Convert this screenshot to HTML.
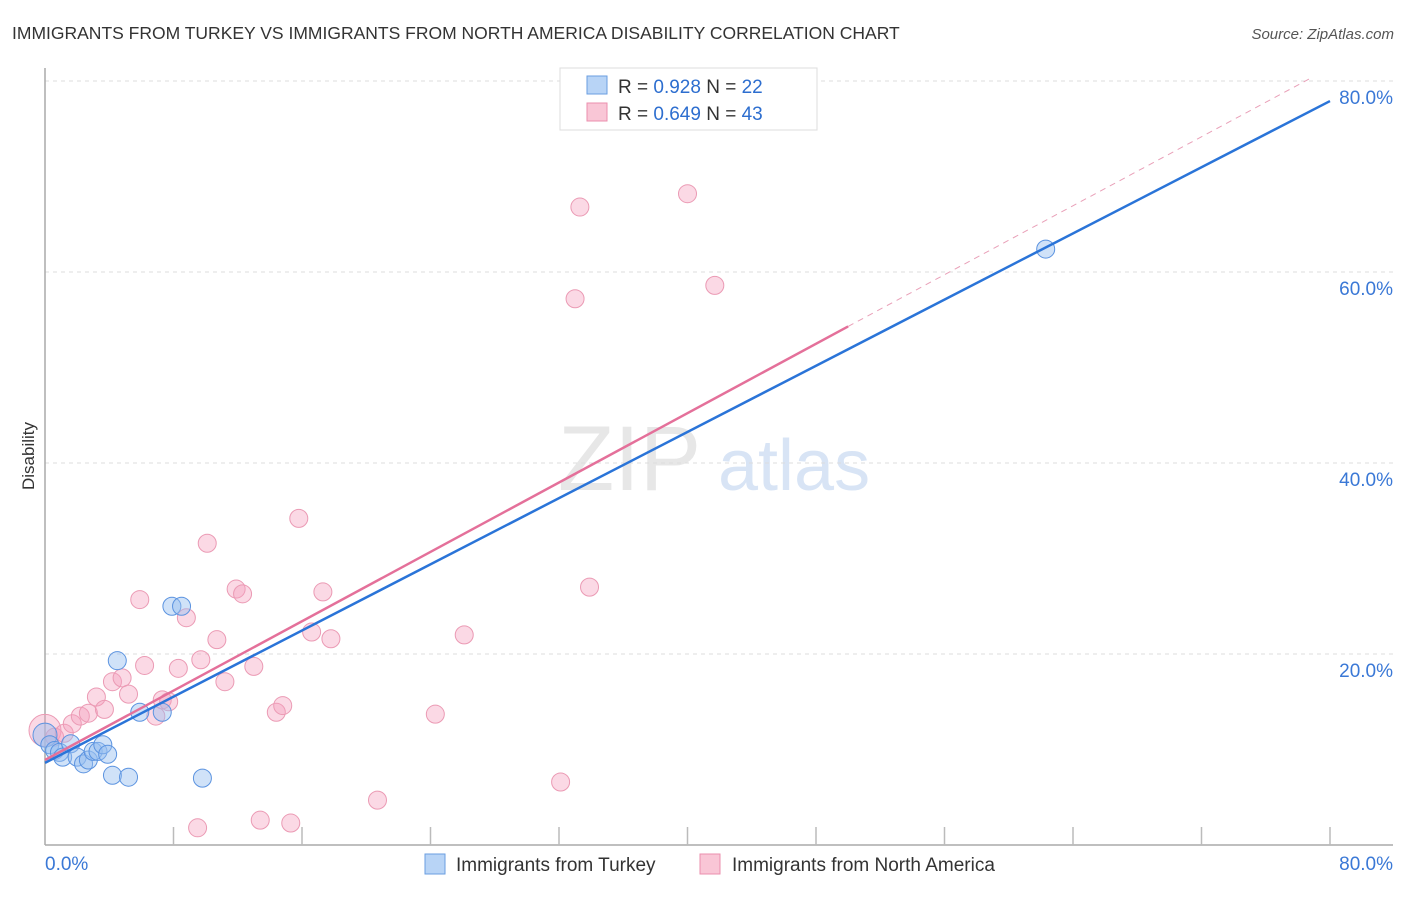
<!DOCTYPE html>
<html><head><meta charset="utf-8"><style>
body{margin:0;background:#fff;font-family:"Liberation Sans",sans-serif;}
svg text{font-family:"Liberation Sans",sans-serif;}
</style></head><body>
<svg id="chart" width="1406" height="892" xmlns="http://www.w3.org/2000/svg">
<text x="12" y="39" font-size="17.5" fill="#333">IMMIGRANTS FROM TURKEY VS IMMIGRANTS FROM NORTH AMERICA DISABILITY CORRELATION CHART</text>
<text x="1394" y="39" font-size="15" fill="#555" text-anchor="end" font-style="italic">Source: ZipAtlas.com</text>
<text transform="translate(34,456) rotate(-90)" font-size="17" fill="#333" text-anchor="middle">Disability</text>
<g><text x="558" y="490" font-size="92" fill="#ddd" font-family="Liberation Serif" opacity="0.7">ZIP</text><text x="718" y="490" font-size="72" fill="#c8daf2" opacity="0.7">atlas</text></g>
<g id="grid"></g><g id="axes"></g><g id="marks"></g>
<g>
<rect x="560" y="68" width="257" height="62" fill="#fff" stroke="#ddd"/>
<rect x="587" y="76" width="20" height="18" fill="#b8d4f6" stroke="#6a9ee0"/>
<rect x="587" y="103" width="20" height="18" fill="#f9c6d6" stroke="#eb8fae"/>
<text x="618" y="93" font-size="19" fill="#333">R = <tspan fill="#2d6ecf">0.928</tspan>   N = <tspan fill="#2d6ecf">22</tspan></text>
<text x="618" y="120" font-size="19" fill="#333">R = <tspan fill="#2d6ecf">0.649</tspan>   N = <tspan fill="#2d6ecf">43</tspan></text>
</g>
<g>
<rect x="425" y="854" width="20" height="20" fill="#b8d4f6" stroke="#6a9ee0"/>
<text x="456" y="871" font-size="19" fill="#333">Immigrants from Turkey</text>
<rect x="700" y="854" width="20" height="20" fill="#f9c6d6" stroke="#eb8fae"/>
<text x="732" y="871" font-size="19" fill="#333">Immigrants from North America</text>
</g>
</svg>
<script>
const yTicks=[20,40,60,80];
const yTickLabels=["20.0%","40.0%","60.0%","80.0%"];
const xTickCount=[0,8,16,24,32,40,48,56,64,72,80];
const turkeyX=[0,0.3,0.6,0.9,1.1,1.6,2.0,2.4,2.7,3.0,3.3,3.6,3.9,4.2,4.5,5.2,5.9,7.3,7.9,8.5,9.8,62.3];
const turkeyY=[11.5,10.5,9.9,9.7,9.2,10.6,9.2,8.5,8.9,9.8,9.8,10.5,9.5,7.3,19.3,7.1,13.9,13.9,25.0,25.0,7.0,62.4];
const naX=[0,0.6,1.2,1.7,2.2,2.7,3.2,3.7,4.2,4.8,5.2,5.9,6.2,6.9,7.3,7.7,8.3,8.8,9.5,9.7,10.1,10.7,11.2,11.9,12.3,13.0,13.4,14.4,14.8,15.3,15.8,16.6,17.3,17.8,20.7,24.3,26.1,32.1,33.0,33.3,33.9,40.0,41.7];
const naY=[12.0,11.3,11.7,12.7,13.5,13.8,15.5,14.2,17.1,17.5,15.8,25.7,18.8,13.5,15.2,15.0,18.5,23.8,1.8,19.4,31.6,21.5,17.1,26.8,26.3,18.7,2.6,13.9,14.6,2.3,34.2,22.3,26.5,21.6,4.7,13.7,22.0,6.6,57.2,66.8,27.0,68.2,58.6];
const turkeyLine=[8.6,77.9];   // y at x=0, x=80
const naLine=[8.9,54.3,80.3];  // y at x=0, x=50 (solid end), x=78.8
const naLineX=[0,50,78.8];
const sx=v=>45+v*(1330-45)/80;
const sy=v=>845-v*(845-81)/80;
const NS="http://www.w3.org/2000/svg";
function mk(t,a,p){const e=document.createElementNS(NS,t);for(const k in a)e.setAttribute(k,a[k]);p.appendChild(e);return e;}
const grid=document.getElementById('grid'),axes=document.getElementById('axes'),marks=document.getElementById('marks');
yTicks.forEach((v,i)=>{
 const l=mk('line',{x1:45,x2:1393,y1:sy(v),y2:sy(v),stroke:'#ddd','stroke-dasharray':'4,4'},grid);
 
 
 const t=mk('text',{x:1393,y:sy(v)+23,'font-size':19,fill:'#3a78d6','text-anchor':'end'},axes);
 t.textContent=yTickLabels[i];
 
 
});
let a=mk('line',{x1:45,x2:45,y1:68,y2:845,stroke:'#aaa','stroke-width':1.5},axes);


a=mk('line',{x1:45,x2:1393,y1:845,y2:845,stroke:'#aaa','stroke-width':1.5},axes);


xTickCount.forEach(v=>{
 if(v===0)return;
 const l=mk('line',{x1:sx(v),x2:sx(v),y1:827,y2:845,stroke:'#bbb','stroke-width':1.5},axes);
 
 
});
let t=mk('text',{x:45,y:870,'font-size':19,fill:'#3a78d6'},axes);t.textContent='0.0%';


t=mk('text',{x:1393,y:870,'font-size':19,fill:'#3a78d6','text-anchor':'end'},axes);t.textContent='80.0%';


naX.forEach((x,i)=>{
 const c=mk('circle',{cx:sx(x),cy:sy(naY[i]),r:i===0?16:9,fill:'rgba(245,160,190,0.4)',stroke:'#eb9ab4','stroke-width':1},marks);
 
 
});
turkeyX.forEach((x,i)=>{
 const c=mk('circle',{cx:sx(x),cy:sy(turkeyY[i]),r:i===0?12:9,fill:'rgba(150,190,240,0.45)',stroke:'#5b93e0','stroke-width':1},marks);
 
 
});
let l=mk('line',{x1:sx(naLineX[1]),y1:sy(naLine[1]),x2:sx(naLineX[2]),y2:sy(naLine[2]),stroke:'#e9a0b8','stroke-width':1,'stroke-dasharray':'6,5'},marks);


l=mk('line',{x1:sx(naLineX[0]),y1:sy(naLine[0]),x2:sx(naLineX[1]),y2:sy(naLine[1]),stroke:'#e4709a','stroke-width':2.5},marks);


l=mk('line',{x1:sx(0),y1:sy(turkeyLine[0]),x2:sx(80),y2:sy(turkeyLine[1]),stroke:'#2a74d8','stroke-width':2.5},marks);


</script>
</body></html>
